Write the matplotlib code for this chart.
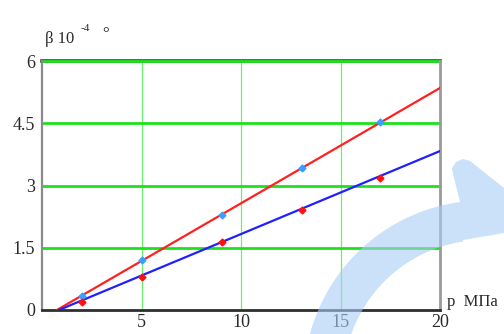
import numpy as np
import matplotlib
matplotlib.use('Agg')
import matplotlib.pyplot as plt
from matplotlib.patches import Polygon

# measured points: p in MPa, beta in 1e-4 deg
p_meas = [2.0, 5.05, 9.05, 13.05, 17.0]
beta_a = [0.34, 1.20, 2.29, 3.41, 4.54]
beta_b = [0.19, 0.80, 1.64, 2.41, 3.19]
# fitted straight lines (end points)
p_fit_a = [0.75, 20.0]
fit_a = [0.0, 5.35]
p_fit_b = [0.85, 20.0]
fit_b = [0.0, 3.83]

xticks = [5, 10, 15, 20]
xlabels = ['5', '10', '15', '20']
yticks = [0, 1.5, 3, 4.5, 6]
ylabels = ['0', '1.5', '3', '4.5', '6']

SERIF = 'Liberation Serif'
plt.rcParams.update({'font.family': SERIF, 'font.size': 13})

W, H = 504, 334
fig = plt.figure(figsize=(W/100, H/100), dpi=100)
ax = fig.add_axes([42/W, 24/H, 398/W, 249/H])
ax.set_xlim(0, 20); ax.set_ylim(0, 6)

for y in yticks[1:]:
    ax.axhline(y, color='#1fe01f', lw=2.0, zorder=2, clip_on=False)
for x in xticks[:-1]:
    ax.axvline(x, color='#6cf06c', lw=0.9, zorder=1)

ax.plot(p_fit_a, fit_a, color='#ff2020', lw=1.6, zorder=3)
ax.plot(p_fit_b, fit_b, color='#2020ff', lw=1.6, zorder=3)
ax.plot(p_meas, beta_a, 'D', color='#3aa0ff', ms=3.5, mec='#3aa0ff', zorder=4)
ax.plot(p_meas, beta_b, 'D', color='#ff1010', ms=3.5, mec='#ff1010', zorder=4)

ax.set_xticks(xticks); ax.set_xticklabels(xlabels)
ax.set_yticks(yticks); ax.set_yticklabels(ylabels)
ax.tick_params(length=0, colors='#2a2a2a', labelsize=13)
ax.tick_params(axis='y', pad=5)
ax.tick_params(axis='x', pad=3)

ax.spines['left'].set_color('#8a8a8a'); ax.spines['left'].set_linewidth(1.6)
ax.spines['bottom'].set_color('#2e2e2e'); ax.spines['bottom'].set_linewidth(2.0)
ax.spines['right'].set_color('#9a9a9a'); ax.spines['right'].set_linewidth(2.0)
ax.spines['top'].set_color('#2e4a2e'); ax.spines['top'].set_linewidth(2.6)
ax.spines['top'].set_zorder(1)

# axis captions
fig.text(45/W, (H-43)/H, 'β 10', fontsize=12, color='#2a2a2a', va='baseline')
fig.text(81/W, (H-31)/H, '-4', fontsize=8, color='#2a2a2a', va='baseline')
fig.text(102/W, (H-38)/H, '°', fontsize=12, color='#2a2a2a', va='baseline')
fig.text(447/W, (H-306)/H, 'p  МПа', fontsize=12, color='#2a2a2a', va='baseline')

# light blue curved arrow over the plot
cx, cy = 484.3, -46.9
t_out = np.radians(np.linspace(168, 97.7, 60))
t_in = np.radians(np.linspace(98.6, 168, 60))
outer = np.c_[cx + 180.5*np.cos(t_out), cy + 180.5*np.sin(t_out)]
inner = np.c_[cx + 141*np.cos(t_in), cy + 141*np.sin(t_in)]
head = np.array([[453, 160], [452, 166], [456, 172], [463, 175], [470, 173],
                 [504, 146], [560, 105], [504, 101], [463, 94]])
pts = np.vstack([outer, head, inner])
pts[:, 0] /= W; pts[:, 1] /= H
fig.add_artist(Polygon(pts, closed=True, transform=fig.transFigure,
                       fc='#a8cdf5', ec='none', alpha=0.6, zorder=10))

plt.savefig('out.png', dpi=100, facecolor='white')
